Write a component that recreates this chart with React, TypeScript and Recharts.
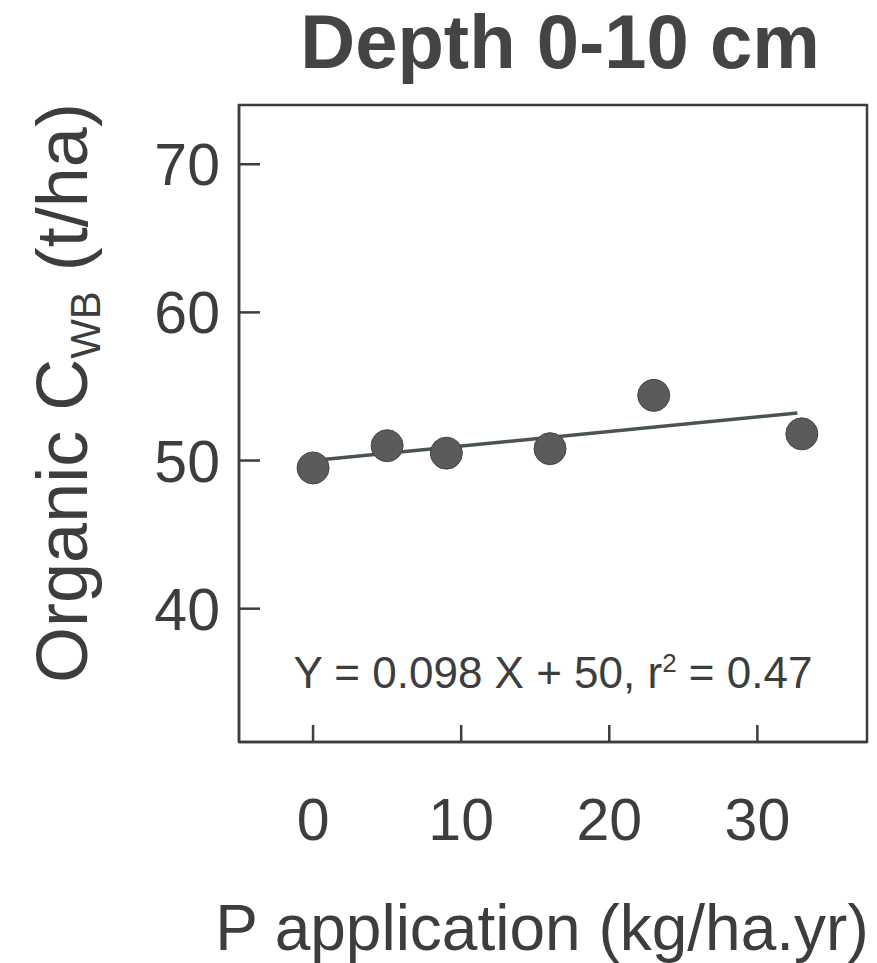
import React from 'react';
import { ComposedChart, XAxis, YAxis, Scatter, Line, ReferenceArea } from 'recharts';

// Measured soil organic carbon (0-10 cm) against P application rate
const pApplication = [0, 5, 9, 16, 23, 33];
const organicC = [49.5, 51.0, 50.5, 50.8, 54.4, 51.8];

// Axis ticks and ranges
const xTicks = [0, 10, 20, 30];
const yTicks = [40, 50, 60, 70];
const X_DOMAIN: [number, number] = [-5, 37.4];
const Y_DOMAIN: [number, number] = [31, 74];

// Linear fit reported on the chart: Y = 0.098 X + 50, r² = 0.47
const FIT_SLOPE = 0.098;
const FIT_INTERCEPT = 50;
const FIT_X_RANGE = [0, 32.7];
const R_SQUARED = 0.47;

const points = pApplication.map((x, i) => ({ x, y: organicC[i] }));
const fitLine = FIT_X_RANGE.map((x) => ({ x, y: FIT_SLOPE * x + FIT_INTERCEPT }));

const INK = '#3d3d3d';
const FONT = '"Liberation Sans", Arial, Helvetica, sans-serif';

// Frame layout
const W = 877;
const H = 963;
const MARGIN = { top: 105, right: 10, bottom: 0, left: 0 };
const Y_AXIS_WIDTH = 239;
const X_AXIS_HEIGHT = 221;
const PLOT_LEFT = MARGIN.left + Y_AXIS_WIDTH;
const PLOT_BOTTOM = H - MARGIN.bottom - X_AXIS_HEIGHT;
const TICK_LEN_Y = 21;
const TICK_LEN_X = 17;

const Dot = (props: any) => {
  const { cx, cy } = props;
  if (cx == null || cy == null) return null;
  return <circle cx={cx} cy={cy} r={16} fill="#5b5b5b" stroke="#444" strokeWidth={1} />;
};

// Left axis tick: short mark pointing into the plot, label outside
const YTick = (props: any) => {
  const { y, payload } = props;
  return (
    <g>
      <line x1={PLOT_LEFT} x2={PLOT_LEFT + TICK_LEN_Y} y1={y} y2={y} stroke={INK} strokeWidth={2.5} />
      <text x={PLOT_LEFT - 19} y={y + 21} textAnchor="end" fontSize={59} fill={INK} fontFamily={FONT}>
        {payload.value}
      </text>
    </g>
  );
};

// Bottom axis tick: short mark pointing up into the plot, label well below
const XTick = (props: any) => {
  const { x, payload } = props;
  return (
    <g>
      <line x1={x} x2={x} y1={PLOT_BOTTOM} y2={PLOT_BOTTOM - TICK_LEN_X} stroke={INK} strokeWidth={2.5} />
      <text x={x} y={PLOT_BOTTOM + 98} textAnchor="middle" fontSize={59} fill={INK} fontFamily={FONT}>
        {payload.value}
      </text>
    </g>
  );
};

export default function App() {
  return (
    <div style={{ position: 'absolute', left: 0, top: 0, width: W, height: H, background: '#ffffff' }}>
      <ComposedChart width={W} height={H} margin={MARGIN} style={{ fontFamily: FONT }}>
        <XAxis
          xAxisId="main"
          type="number"
          dataKey="x"
          domain={X_DOMAIN}
          ticks={xTicks}
          height={X_AXIS_HEIGHT}
          tickSize={0}
          tickMargin={0}
          allowDataOverflow
          axisLine={{ stroke: INK, strokeWidth: 2.5 }}
          tickLine={false}
          tick={<XTick />}
        />
        <YAxis
          yAxisId="main"
          type="number"
          dataKey="y"
          domain={Y_DOMAIN}
          ticks={yTicks}
          width={Y_AXIS_WIDTH}
          tickSize={0}
          tickMargin={0}
          allowDataOverflow
          axisLine={{ stroke: INK, strokeWidth: 2.5 }}
          tickLine={false}
          tick={<YTick />}
        />
        <ReferenceArea
          xAxisId="main"
          yAxisId="main"
          x1={X_DOMAIN[0]}
          x2={X_DOMAIN[1]}
          y1={Y_DOMAIN[0]}
          y2={Y_DOMAIN[1]}
          fill="none"
          fillOpacity={0}
          stroke={INK}
          strokeWidth={2.5}
          ifOverflow="visible"
        />
        <Line
          xAxisId="main"
          yAxisId="main"
          data={fitLine}
          dataKey="y"
          type="linear"
          stroke="#4a5450"
          strokeWidth={3.5}
          dot={false}
          activeDot={false}
          isAnimationActive={false}
        />
        <Scatter
          xAxisId="main"
          yAxisId="main"
          data={points}
          dataKey="y"
          shape={<Dot />}
          isAnimationActive={false}
        />
        <text x={560} y={68} textAnchor="middle" fontSize={76} fontWeight="bold" fill="#444" fontFamily={FONT}>
          Depth 0-10 cm
        </text>
        <text
          transform="translate(87, 393) rotate(-90)"
          textAnchor="middle"
          fontSize={72}
          fill={INK}
          fontFamily={FONT}
        >
          Organic C
          <tspan fontSize={42} dy={13}>WB</tspan>
          <tspan dy={-13}> (t/ha)</tspan>
        </text>
        <text x={553} y={688} textAnchor="middle" fontSize={44} fill={INK} fontFamily={FONT}>
          {`Y = ${FIT_SLOPE} X + ${FIT_INTERCEPT}, r`}
          <tspan fontSize={26} dy={-16}>2</tspan>
          <tspan dy={16}>{` = ${R_SQUARED}`}</tspan>
        </text>
        <text x={542} y={950} textAnchor="middle" fontSize={64} fill={INK} fontFamily={FONT}>
          P application (kg/ha.yr)
        </text>
      </ComposedChart>
    </div>
  );
}
